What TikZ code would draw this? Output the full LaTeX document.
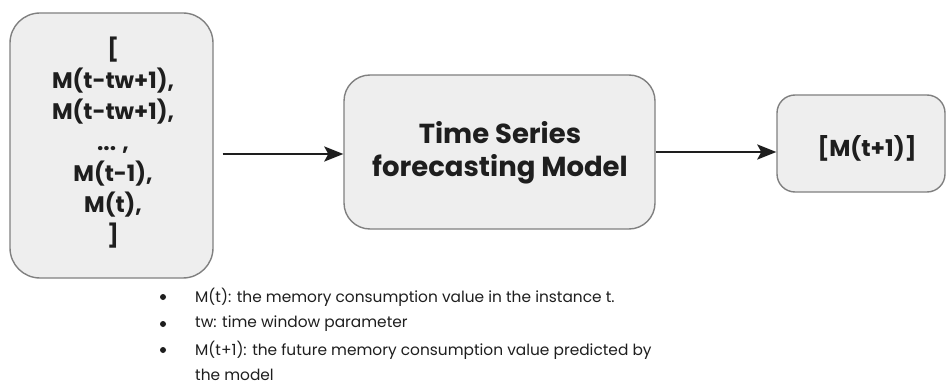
\documentclass[tikz,border=0pt]{standalone}
\usepackage{fontspec}
\setmainfont{Poppins}
\usetikzlibrary{arrows.meta}
\definecolor{boxfill}{HTML}{EEEEEE}
\definecolor{boxline}{HTML}{808080}
\definecolor{ink}{HTML}{1E1E1E}
\tikzset{
  stage/.style={draw=boxline, fill=boxfill, line width=1.4pt, rounded corners=#1, inner sep=0pt},
  arr/.style={draw=ink, line width=2.5pt, -{Stealth[length=19pt,width=15pt,inset=4pt]}},
  boxtext/.style={text=ink, align=center, font=\bfseries},
  note/.style={text=ink, anchor=west, inner sep=0pt, font=\fontsize{15.4}{19}\selectfont},
  dot/.style={circle, fill=ink, inner sep=0pt, minimum size=6pt}
}
\begin{document}
\begin{tikzpicture}[x=1pt, y=-1pt]
  \useasboundingbox (0,0) rectangle (948,385);

  % the three stages
  \node[stage=30pt, minimum width=203pt, minimum height=265pt] (input) at (111.5,145.5) {};
  \node[stage=26pt, minimum width=311pt, minimum height=154pt] (model) at (499.5,152) {};
  \node[stage=18pt, minimum width=168pt, minimum height=97pt] (output) at (861,143.5) {};

  % stage contents
  \node[boxtext, font=\bfseries\fontsize{22.5}{31}\selectfont] (inputtxt) at (113,143)
    {[\\M(t-tw+1),\\M(t-tw+1),\\... ,\\M(t-1),\\M(t),\\]};
  \node[boxtext, font=\bfseries\fontsize{27.5}{33}\selectfont] (modeltxt) at (500,153)
    {Time Series\\forecasting Model};
  \node[boxtext, font=\bfseries\fontsize{23}{25}\selectfont] (outputtxt) at (867,148) {[M(t+1)]};

  % flow
  \draw[arr, shorten <=9pt] (input.east |- 0,154) -- (model.west |- 0,154);
  \draw[arr] (model.east |- 0,152) -- (output.west |- 0,152);

  % legend
  \node[dot] (b1) at (163,297) {};
  \node[dot] (b2) at (163,324) {};
  \node[dot] (b3) at (163,350) {};
  \node[note] (l1) at (195,297) {M(t): the memory consumption value in the instance t.};
  \node[note] (l2) at (195,324) {tw: time window parameter};
  \node[note] (l3) at (195,350) {M(t+1): the future memory consumption value predicted by};
  \node[note] (l4) at (195,375) {the model};
\end{tikzpicture}
\end{document}
